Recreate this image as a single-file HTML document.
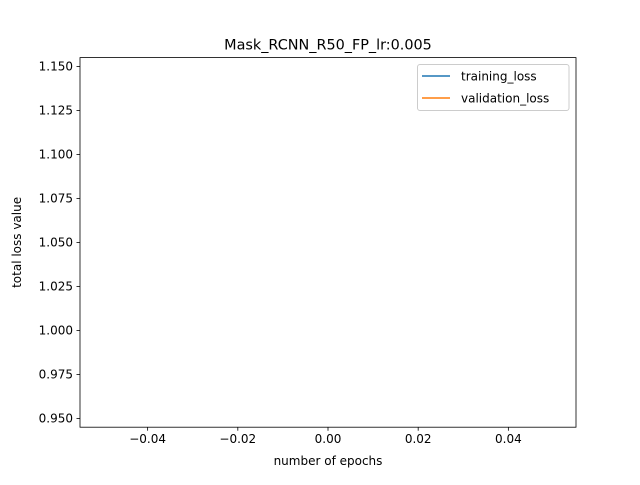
<!DOCTYPE html>
<html><head><meta charset="utf-8"><style>
html,body{margin:0;padding:0;background:#fff;}
svg text{font-family:"DejaVu Sans","Liberation Sans",sans-serif;}
</style></head><body>
<svg id="chart" width="640" height="480" viewBox="0 0 640 480"></svg>
<script>
const epochs = [0];
const trainingLoss = [1.05];
const validationLoss = [1.05];
const xTicks = [-0.04, -0.02, 0.00, 0.02, 0.04];
const yTicks = [0.950, 0.975, 1.000, 1.025, 1.050, 1.075, 1.100, 1.125, 1.150];
const seriesNames = ["training_loss", "validation_loss"];

const NS = "http://www.w3.org/2000/svg";
const svg = document.getElementById("chart");
const L = 80, R = 576, T = 57.6, B = 427.2;
const xMin = -0.055, xMax = 0.055, yMin = 0.945, yMax = 1.155;
function xs(v){ return L + (v - xMin) / (xMax - xMin) * (R - L); }
function ys(v){ return B - (v - yMin) / (yMax - yMin) * (B - T); }
function fmt(v, d){ return (v < 0 ? "\u2212" : "") + Math.abs(v).toFixed(d); }
function mk(tag, attrs, parent){
  const e = document.createElementNS(NS, tag);
  for (const k in attrs) e.setAttribute(k, attrs[k]);
  (parent || svg).appendChild(e);
  return e;
}

const title = mk("text", {x: (L+R)/2, y: 49.5, "text-anchor": "middle", "font-size": 14.4, fill: "#000"});
title.textContent = "Mask_RCNN_R50_FP_lr:0.005";



xTicks.forEach(function(t){
  const x = xs(t);
  const tk = mk("line", {x1: x, x2: x, y1: B, y2: B + 3.5, stroke: "#000", "stroke-width": 0.8});
  
  
  const lb = mk("text", {x: x, y: B + 16, "text-anchor": "middle", "font-size": 12, fill: "#000"});
  lb.textContent = fmt(t, 2);
  
  
});
yTicks.forEach(function(t){
  const y = ys(t);
  const tk = mk("line", {x1: L - 3.5, x2: L, y1: y, y2: y, stroke: "#000", "stroke-width": 0.8});
  
  
  const lb = mk("text", {x: L - 7, y: y + 4.3, "text-anchor": "end", "font-size": 12, fill: "#000"});
  lb.textContent = fmt(t, 3);
  
  
});

const xt = mk("text", {x: (L+R)/2, y: 465, "text-anchor": "middle", "font-size": 12, fill: "#000"});
xt.textContent = "number of epochs";


const yt = mk("text", {x: 21, y: (T+B)/2, "text-anchor": "middle", "font-size": 12, fill: "#000", transform: "rotate(-90 21 " + (T+B)/2 + ")"});
yt.textContent = "total loss value";



const colors = ["#1f77b4", "#ff7f0e"];
[trainingLoss, validationLoss].forEach(function(s, i){
  const pts = s.map(function(v, j){ return xs(epochs[j]) + "," + ys(v); }).join(" ");
  const pl = mk("polyline", {points: pts, fill: "none", stroke: colors[i], "stroke-width": 1.5});
  
  
});

const frame = mk("rect", {x: L, y: T, width: R - L, height: B - T, fill: "none", stroke: "#000", "stroke-width": 0.8});



const lg = mk("g", {});


mk("rect", {x: 417.5, y: 64.5, width: 151.5, height: 46, rx: 2.5, fill: "#fff", "fill-opacity": 0.8, stroke: "#ccc", "stroke-width": 1}, lg);
seriesNames.forEach(function(n, i){
  const y = 76 + i * 22;
  const ln = mk("line", {x1: 422, x2: 450, y1: y, y2: y, stroke: colors[i], "stroke-width": 1.5}, lg);
  
  
  const tx = mk("text", {x: 461, y: y + 4.3, "font-size": 12, fill: "#000"}, lg);
  tx.textContent = n;
  
  
});
</script>
</body></html>
